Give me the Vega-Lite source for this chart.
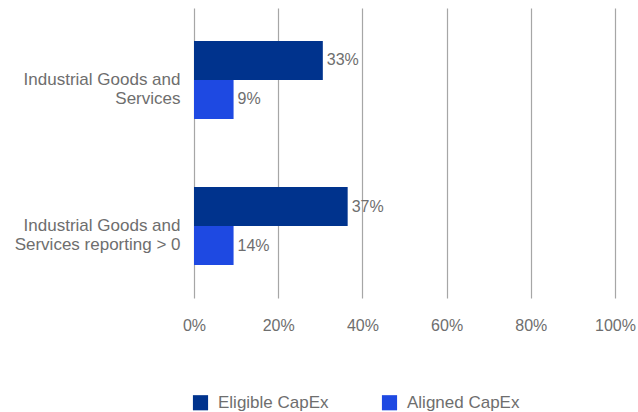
{
  "$schema": "https://vega.github.io/schema/vega-lite/v6.json",
  "width": 421,
  "height": 290,
  "autosize": {"type": "none"},
  "padding": {"left": 194, "top": 8, "right": 23, "bottom": 114},
  "background": "white",
  "config": {
    "view": {"stroke": null},
    "font": "Liberation Sans"
  },
  "data": {
    "values": [
      {"category": "Industrial Goods and Services", "series": "Eligible CapEx", "value": 30.6, "label": "33%"},
      {"category": "Industrial Goods and Services", "series": "Aligned CapEx", "value": 9.4, "label": "9%"},
      {"category": "Industrial Goods and Services reporting > 0", "series": "Eligible CapEx", "value": 36.5, "label": "37%"},
      {"category": "Industrial Goods and Services reporting > 0", "series": "Aligned CapEx", "value": 9.4, "label": "14%"}
    ]
  },
  "encoding": {
    "y": {
      "field": "category",
      "type": "nominal",
      "sort": null,
      "title": null,
      "scale": {"paddingInner": 0.466, "paddingOuter": 0.226},
      "axis": {
        "domain": false,
        "ticks": false,
        "grid": false,
        "labelPadding": 14,
        "labelFontSize": 17,
        "labelColor": "#6e6e6e",
        "labelLineHeight": 19,
        "labelOffset": 0,
        "labelLimit": 300,
        "labelExpr": "datum.value == 'Industrial Goods and Services' ? ['Industrial Goods and', 'Services'] : ['Industrial Goods and', 'Services reporting > 0']"
      }
    },
    "yOffset": {
      "field": "series",
      "type": "nominal",
      "sort": ["Eligible CapEx", "Aligned CapEx"]
    }
  },
  "layer": [
    {
      "mark": {"type": "bar"},
      "encoding": {
        "x": {
          "field": "value",
          "type": "quantitative",
          "scale": {"domain": [0, 100]},
          "title": null,
          "axis": {
            "values": [0, 20, 40, 60, 80, 100],
            "labelExpr": "datum.value + '%'",
            "labelFlush": false,
            "labelOverlap": false,
            "domain": false,
            "ticks": false,
            "grid": true,
            "gridColor": "#a6a6a6",
            "gridWidth": 1.2,
            "labelPadding": 19,
            "labelFontSize": 16,
            "labelColor": "#6e6e6e"
          }
        },
        "color": {
          "field": "series",
          "type": "nominal",
          "sort": ["Eligible CapEx", "Aligned CapEx"],
          "scale": {"domain": ["Eligible CapEx", "Aligned CapEx"], "range": ["#00338D", "#1E49E2"]},
          "legend": {
            "title": null,
            "orient": "none",
            "legendX": -2,
            "legendY": 386,
            "direction": "horizontal",
            "symbolType": "square",
            "symbolSize": 230,
            "symbolStrokeWidth": 0,
            "labelFontSize": 17,
            "labelColor": "#6e6e6e",
            "labelOffset": 9,
            "columnPadding": 52
          }
        }
      }
    },
    {
      "mark": {"type": "text", "align": "left", "baseline": "middle", "dx": 4, "fontSize": 16, "color": "#6e6e6e"},
      "encoding": {
        "x": {"field": "value", "type": "quantitative"},
        "text": {"field": "label"}
      }
    }
  ]
}
